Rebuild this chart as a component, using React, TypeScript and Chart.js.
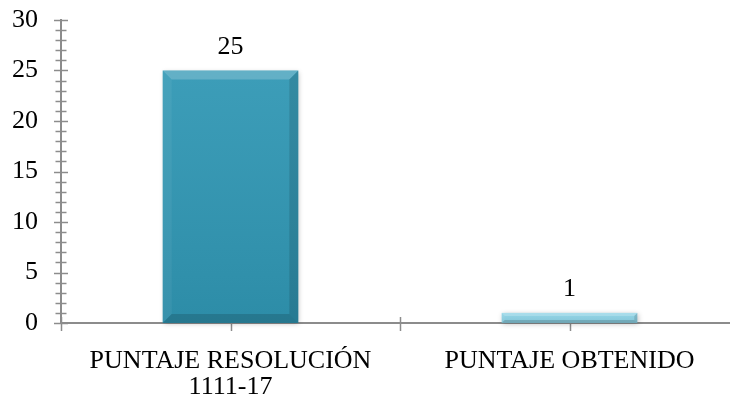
import React, { useEffect, useRef } from "react";
import { Chart, registerables } from "chart.js";

Chart.register(...registerables);

const categories: string[][] = [["PUNTAJE RESOLUCIÓN", "1111-17"], ["PUNTAJE OBTENIDO"]];
const scores: number[] = [25, 1];
const barColors: string[] = ["#3097B4", "#8DD3E6"];
const yMin = 0;
const yMax = 30;
const yStep = 5;
const yMinorStep = 1;

const FONT = "'Liberation Serif', 'Times New Roman', serif";
const AXIS = "#8c8c8c";

function drawBevelBar(ctx: CanvasRenderingContext2D, l: number, r: number, t: number, b: number, color: string) {
  const h = b - t;
  const bv = Math.min(9, h * 0.3, (r - l) * 0.1);
  ctx.save();
  ctx.shadowColor = "rgba(0,0,0,0.25)";
  ctx.shadowBlur = 5;
  ctx.shadowOffsetX = 1;
  ctx.shadowOffsetY = 1;
  ctx.fillStyle = color;
  ctx.fillRect(l, t, r - l, h);
  ctx.restore();
  ctx.save();
  const g = ctx.createLinearGradient(0, t, 0, b);
  g.addColorStop(0, "rgba(255,255,255,0.06)");
  g.addColorStop(1, "rgba(0,0,0,0.07)");
  ctx.fillStyle = g;
  ctx.fillRect(l, t, r - l, h);
  const poly = (pts: number[][], fill: string) => {
    ctx.beginPath();
    ctx.moveTo(pts[0][0], pts[0][1]);
    for (let i = 1; i < pts.length; i++) ctx.lineTo(pts[i][0], pts[i][1]);
    ctx.closePath();
    ctx.fillStyle = fill;
    ctx.fill();
  };
  poly([[l, t], [r, t], [r - bv, t + bv], [l + bv, t + bv]], "rgba(255,255,255,0.2)");
  poly([[l, t], [l + bv, t + bv], [l + bv, b - bv], [l, b]], "rgba(255,255,255,0.05)");
  poly([[r, t], [r, b], [r - bv, b - bv], [r - bv, t + bv]], "rgba(0,0,0,0.12)");
  poly([[l, b], [l + bv, b - bv], [r - bv, b - bv], [r, b]], "rgba(0,0,0,0.15)");
  ctx.restore();
}

export default function App() {
  const ref = useRef<HTMLCanvasElement>(null);

  useEffect(() => {
    const canvas = ref.current!;

    const ticksPlugin = {
      id: "axisTicks",
      beforeDatasetsDraw(chart: any) {
        const ctx = chart.ctx as CanvasRenderingContext2D;
        const xs = chart.scales.x;
        const ys = chart.scales.y;
        const ax = chart.chartArea.left;
        const ay = chart.chartArea.bottom;
        ctx.save();
        ctx.strokeStyle = AXIS;
        ctx.lineWidth = 1.5;
        for (let v = yMin; v <= yMax; v += yMinorStep) {
          const py = Math.round(ys.getPixelForValue(v)) + 0.5;
          const half = v % yStep === 0 ? 7 : 5.5;
          ctx.beginPath();
          ctx.moveTo(ax - half, py);
          ctx.lineTo(ax + half, py);
          ctx.stroke();
        }
        const n = categories.length;
        const step = n > 1 ? xs.getPixelForValue(1) - xs.getPixelForValue(0) : xs.width;
        const pts: number[] = [];
        for (let i = 0; i < n; i++) {
          const c = xs.getPixelForValue(i);
          pts.push(c - step / 2, c);
          if (i === n - 1) pts.push(c + step / 2);
        }
        pts.forEach((px) => {
          const x = Math.round(px) + 0.5;
          ctx.beginPath();
          ctx.moveTo(x, ay - 6);
          ctx.lineTo(x, ay + 8);
          ctx.stroke();
        });
        ctx.restore();
      },
    };

    const barsPlugin = {
      id: "bevelBars",
      afterDatasetsDraw(chart: any) {
        const ctx = chart.ctx as CanvasRenderingContext2D;
        const meta = chart.getDatasetMeta(0);
        meta.data.forEach((bar: any, i: number) => {
          const l = bar.x - bar.width / 2;
          const r = bar.x + bar.width / 2;
          drawBevelBar(ctx, l, r, bar.y, bar.base, barColors[i % barColors.length]);
        });
        ctx.save();
        ctx.fillStyle = "#000";
        ctx.font = `26px ${FONT}`;
        ctx.textAlign = "center";
        ctx.textBaseline = "alphabetic";
        meta.data.forEach((bar: any, i: number) => {
          ctx.fillText(String(scores[i]), bar.x, bar.y - 17);
        });
        ctx.restore();
      },
    };

    const chart = new Chart(canvas, {
      type: "bar",
      data: {
        labels: categories,
        datasets: [
          {
            data: scores,
            backgroundColor: "rgba(0,0,0,0)",
            borderWidth: 0,
            barPercentage: 0.4,
            categoryPercentage: 1,
          },
        ],
      },
      options: {
        responsive: false,
        animation: false,
        devicePixelRatio: 1,
        layout: { padding: { top: 20, right: 1, bottom: 0, left: 0 } },
        plugins: { legend: { display: false }, tooltip: { enabled: false } },
        scales: {
          x: {
            type: "category",
            offset: true,
            grid: { display: false },
            border: { display: true, color: AXIS, width: 2 },
            ticks: {
              color: "#000",
              font: { family: FONT, size: 26, lineHeight: 1.0 },
              padding: 17,
              maxRotation: 0,
              minRotation: 0,
              autoSkip: false,
            },
            afterFit(s: any) {
              s.height = 77;
              s.paddingLeft = 0;
              s.paddingRight = 0;
            },
          },
          y: {
            min: yMin,
            max: yMax,
            grid: { display: false },
            border: { display: true, color: AXIS, width: 2 },
            ticks: {
              stepSize: yStep,
              color: "#000",
              font: { family: FONT, size: 26 },
              padding: 15,
            },
            afterFit(s: any) {
              s.width = 61;
              s.paddingTop = 0;
              s.paddingBottom = 0;
            },
          },
        },
      },
      plugins: [ticksPlugin, barsPlugin],
    } as any);

    return () => chart.destroy();
  }, []);

  return (
    <div style={{ position: "absolute", left: 0, top: 0, width: 730, height: 400, overflow: "hidden", background: "#fff" }}>
      <canvas ref={ref} width={740} height={400} style={{ display: "block", width: 740, height: 400 }} />
    </div>
  );
}
